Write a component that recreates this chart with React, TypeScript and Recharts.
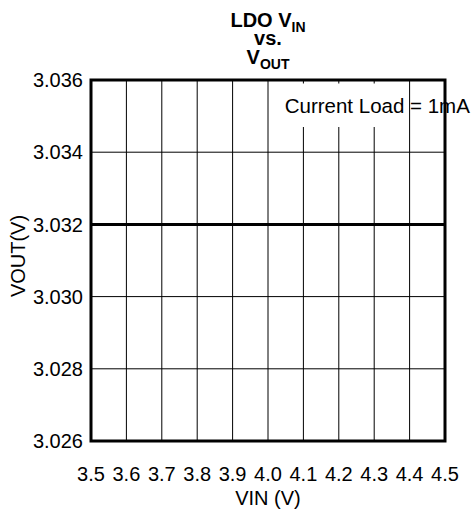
import React from 'react';
import {
  LineChart,
  Line,
  XAxis,
  YAxis,
  CartesianGrid,
  ReferenceArea,
} from 'recharts';

// input voltage sweep (V)
const vinValues = [3.5, 3.6, 3.7, 3.8, 3.9, 4.0, 4.1, 4.2, 4.3, 4.4, 4.5];
// measured output voltage (V), flat at 1mA load
const voutValues = [3.032, 3.032, 3.032, 3.032, 3.032, 3.032, 3.032, 3.032, 3.032, 3.032, 3.032];

const xTicks = [3.5, 3.6, 3.7, 3.8, 3.9, 4.0, 4.1, 4.2, 4.3, 4.4, 4.5];
const yTicks = [3.026, 3.028, 3.03, 3.032, 3.034, 3.036];

const annotation = 'Current Load = 1mA';

const data = vinValues.map((vin, i) => ({ vin, vout: voutValues[i] }));

const font = '"Liberation Sans", Arial, Helvetica, sans-serif';

export default function App() {
  return (
    <div style={{ position: 'absolute', left: 0, top: 0, width: 475, height: 512 }}>
      <LineChart
        width={475}
        height={512}
        data={data}
        margin={{ top: 80, right: 30, bottom: 0, left: 0 }}
        style={{ fontFamily: font }}
      >
        <CartesianGrid stroke="#000" strokeWidth={1} />
        <XAxis
          dataKey="vin"
          type="number"
          domain={[3.5, 4.5]}
          ticks={xTicks}
          tickFormatter={(v: number) => v.toFixed(1)}
          height={71}
          axisLine={false}
          tickLine={false}
          tickSize={0}
          tickMargin={26}
          interval={0}
          tick={{ fill: '#000', fontSize: 20 }}
        />
        <YAxis
          type="number"
          domain={[3.026, 3.036]}
          ticks={yTicks}
          tickFormatter={(v: number) => v.toFixed(3)}
          width={91}
          axisLine={false}
          tickLine={false}
          tickSize={0}
          tickMargin={8}
          interval={0}
          tick={{ fill: '#000', fontSize: 20 }}
        />
        <ReferenceArea
          x1={4.05}
          x2={4.35}
          y1={3.0347}
          y2={3.0359}
          fill="#fff"
          fillOpacity={1}
          stroke="none"
          label={(props: any) => {
            const vb = props.viewBox || {};
            return (
              <text
                x={(vb.x ?? 0) - 1}
                y={(vb.y ?? 0) + 29}
                fontSize={20.5}
                fill="#000"
                fontFamily={font}
              >
                {annotation}
              </text>
            );
          }}
        />
        <ReferenceArea
          x1={3.5}
          x2={4.5}
          y1={3.026}
          y2={3.036}
          fill="none"
          fillOpacity={0}
          stroke="#000"
          strokeWidth={3}
        />
        <Line
          dataKey="vout"
          type="linear"
          stroke="#000"
          strokeWidth={3}
          dot={false}
          isAnimationActive={false}
        />
        <text x={268} y={27} textAnchor="middle" fontSize={20} fontWeight="bold" fill="#000" fontFamily={font}>
          <tspan>LDO V</tspan>
          <tspan dy={5} fontSize={14}>IN</tspan>
        </text>
        <text x={268} y={45} textAnchor="middle" fontSize={20} fontWeight="bold" fill="#000" fontFamily={font}>
          vs.
        </text>
        <text x={268} y={64} textAnchor="middle" fontSize={20} fontWeight="bold" fill="#000" fontFamily={font}>
          <tspan>V</tspan>
          <tspan dy={5} fontSize={14}>OUT</tspan>
        </text>
        <text
          x={25}
          y={256}
          transform="rotate(-90, 25, 256)"
          textAnchor="middle"
          fontSize={20}
          fill="#000"
          fontFamily={font}
        >
          VOUT(V)
        </text>
        <text x={268} y={505} textAnchor="middle" fontSize={20} fill="#000" fontFamily={font}>
          VIN (V)
        </text>
      </LineChart>
    </div>
  );
}
